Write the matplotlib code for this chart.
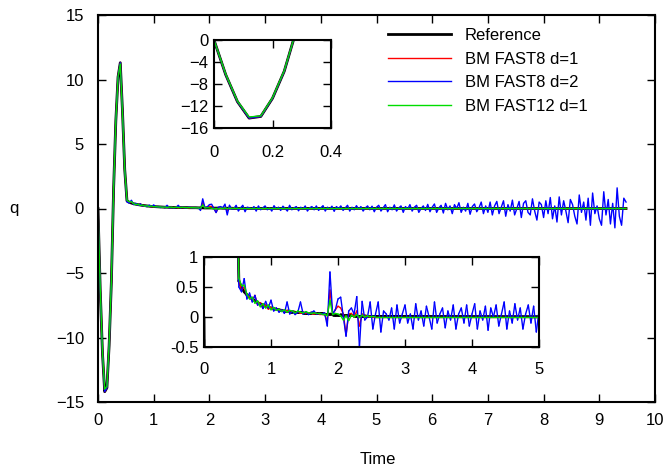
import numpy as np
import matplotlib
matplotlib.use('Agg')
import matplotlib.pyplot as plt
from matplotlib.collections import LineCollection

plt.rcParams['font.family'] = ['Liberation Sans', 'DejaVu Sans']
plt.rcParams['font.size'] = 12

dt = 0.04      # sample step
t_end = 9.48   # last sample time

# reference solution, samples 0 .. 2.60, then flat at zero
ref_q = [0, -6.3, -11.2, -14.2, -13.9, -10.6, -5.7, 1.5, 6.8, 10.2, 11.3, 7.5, 3.0,
         0.6, 0.49, 0.42, 0.37, 0.33, 0.30, 0.27, 0.24, 0.22, 0.20, 0.18, 0.16,
         0.15, 0.14, 0.13, 0.12, 0.11, 0.10, 0.10, 0.09, 0.09, 0.08, 0.08, 0.08,
         0.07, 0.07, 0.07, 0.07, 0.06, 0.06, 0.06, 0.06, 0.05, 0.05, 0.05, 0.04,
         0.04, 0.04, 0.04, 0.03, 0.03, 0.03, 0.03, 0.02, 0.02, 0.02, 0.02, 0.02,
         0.01, 0.01, 0.01, 0.01, 0.01]
ref_tail = 0.0

fast8_d1 = [0, -6.3, -11.2, -14.2, -13.9, -10.6, -5.7, 1.5, 6.8, 10.2, 11.3, 7.5, 3.0,
            0.6, 0.45, 0.5, 0.35, 0.34, 0.27, 0.36, 0.2, 0.24, 0.15, 0.2, 0.13,
            0.16, 0.11, 0.14, 0.1, 0.12, 0.08, 0.11, 0.07, 0.1, 0.07, 0.09, 0.06,
            0.08, 0.06, 0.07, 0.06, 0.05, 0.06, 0.05, 0.05, 0.05, -0.08, 0.45, 0.05,
            0.12, 0.18, 0.15, 0.05, -0.3, 0.05, 0.06, 0.0, 0.1, -0.15, 0.05, 0.02,
            0.0, 0.01, 0.0, 0.0, 0.0]
fast8_d1_tail = 0.0

fast12_d1 = [0, -6.2, -11.1, -14.0, -13.8, -10.5, -5.6, 1.5, 6.8, 10.2, 11.2, 7.4, 3.0,
             0.65, 0.52, 0.53, 0.38, 0.30, 0.33, 0.23, 0.27, 0.17, 0.22, 0.15, 0.2,
             0.12, 0.16, 0.11, 0.13, 0.09, 0.12, 0.08, 0.11, 0.1, 0.07, 0.1, 0.08,
             0.07, 0.09, 0.07, 0.06, 0.07, 0.06, 0.06, 0.05, 0.05, 0.02, 0.28, 0.04,
             0.06, 0.05, 0.02, -0.05, 0.02, -0.06, 0.03, 0.0, 0.04, -0.01, 0.03, 0.0,
             0.02, 0.0, 0.01, 0.0, 0.0]
fast12_d1_tail = 0.0

fast8_d2 = [
    # 0.00 - 0.96
    0, -6.3, -11.2, -14.2, -13.9, -10.6, -5.7, 1.5, 6.8, 10.2, 11.3, 7.5, 3.0,
    0.5, 0.42, 0.64, 0.3, 0.4, 0.25, 0.36, 0.2, 0.22, 0.14, 0.26, 0.15,
    # 1.00 - 1.96
    0.28, 0.1, 0.15, 0.08, 0.12, 0.06, 0.25, 0.05, 0.1, 0.04, 0.08, 0.25, 0.05,
    0.09, 0.04, 0.07, 0.1, 0.05, 0.06, 0.05, 0.07, -0.15, 0.75, 0.05, 0.12,
    # 2.00 - 2.96
    0.3, 0.33, 0.0, -0.32, 0.1, 0.15, 0.05, 0.34, -0.5, 0.26, -0.05, 0.0, 0.25,
    -0.2, 0.05, 0.25, -0.25, 0.1, 0.05, -0.05, 0.15, -0.2, 0.2, -0.1, 0.05,
    # 3.00 - 3.96
    0.2, -0.1, 0.05, -0.2, 0.22, -0.05, 0.1, -0.15, 0.18, 0.0, -0.2, 0.25, -0.1,
    0.05, 0.15, -0.18, 0.1, -0.05, 0.2, -0.2, 0.05, 0.15, -0.1, 0.2, -0.15,
    # 4.00 - 4.96
    0.05, 0.22, -0.2, 0.1, -0.05, 0.18, -0.22, 0.15, 0.0, 0.2, -0.15, 0.05, 0.25,
    -0.2, 0.1, -0.1, 0.22, -0.05, 0.15, -0.2, 0.05, 0.2, -0.1, 0.18, -0.25,
    # 5.00 - 5.96
    0.1, 0.25, -0.2, 0.05, 0.3, -0.25, 0.1, -0.1, 0.28, -0.2, 0.05, 0.2, -0.3,
    0.15, -0.05, 0.3, -0.2, 0.1, 0.25, -0.3, 0.0, 0.2, -0.15, 0.32, -0.25,
    # 6.00 - 6.96
    0.1, 0.35, -0.3, 0.05, 0.25, -0.35, 0.4, -0.1, 0.2, -0.4, 0.3, 0.0, 0.45,
    -0.3, 0.1, -0.2, 0.4, -0.45, 0.15, 0.35, -0.25, 0.05, 0.5, -0.4, 0.2,
    # 7.00 - 7.96
    -0.3, 0.5, -0.5, 0.2, 0.55, -0.4, 0.1, 0.6, -0.6, 0.3, -0.2, 0.65, -0.5,
    0.0, 0.55, -0.7, 0.4, 0.6, -0.3, -0.5, 0.75, -0.2, -0.9, 0.5, 0.3,
    # 8.00 - 8.96
    -0.7, 0.6, -0.4, 0.85, -0.8, 0.2, -1.05, 0.9, -0.5, 0.6, -0.2, -1.1, 0.7,
    0.3, -0.6, -1.2, 1.05, -0.3, 0.5, -0.9, 0.8, -1.3, 1.2, -0.4, 0.2,
    # 9.00 - 9.48
    -0.8, -1.3, 1.3, -0.5, 0.7, -1.2, 0.4, -1.5, 1.6, -0.6, -1.3, 0.8, 0.5]


def with_tail(vals, tail):
    t = np.append(np.arange(len(vals)) * dt, t_end)
    return t, np.append(vals, tail)


series = [
    (with_tail(ref_q, ref_tail), 'black', 2.0, 'Reference'),
    (with_tail(fast8_d1, fast8_d1_tail), '#ff0000', 1.0, 'BM FAST8 d=1'),
    ((np.arange(len(fast8_d2)) * dt, np.array(fast8_d2)), '#0000ff', 1.0, 'BM FAST8 d=2'),
    (with_tail(fast12_d1, fast12_d1_tail), '#00dd00', 1.0, 'BM FAST12 d=1'),
]


def draw(ax):
    for (t, q), c, lw, lab in series:
        ax.plot(t, q, color=c, lw=lw, label=lab)


def draw_clipped(ax, lo, hi):
    # like gnuplot: skip segments whose both ends are out of y range
    for (t, q), c, lw, lab in series:
        inside = (q >= lo) & (q <= hi)
        keep = inside[:-1] | inside[1:]
        pts = np.column_stack([t, q])
        segs = np.stack([pts[:-1], pts[1:]], axis=1)[keep]
        ax.add_collection(LineCollection(segs, colors=c, linewidths=lw,
                                         capstyle='round', joinstyle='round'))


def style(ax, xpad, ypad):
    for s in ax.spines.values():
        s.set_linewidth(1.5)
    ax.tick_params(axis='x', direction='in', top=True, length=6, width=1, pad=xpad)
    ax.tick_params(axis='y', direction='in', right=True, length=6, width=1, pad=ypad)


fig = plt.figure(figsize=(6.72, 4.74), dpi=100)
W, H = 672, 474

ax = fig.add_axes([98 / W, 1 - 402 / H, (655 - 98) / W, (402 - 15) / H])
draw(ax)
ax.set_xlim(0, 10)
ax.set_ylim(-15, 15)
ax.set_xticks(range(0, 11))
ax.set_yticks(range(-15, 16, 5))
style(ax, 8, 10)
fig.text(378 / W, 1 - 460 / H, 'Time', ha='center', va='center', fontsize=12)
fig.text(14 / W, 1 - 208 / H, 'q', ha='center', va='center', fontsize=12)

ax.legend(loc='upper left', bbox_to_anchor=(388 / W, 1 - 28 / H),
          bbox_transform=fig.transFigure, frameon=False, borderpad=0,
          borderaxespad=0, handlelength=3.8, handletextpad=0.8,
          labelspacing=0.52, fontsize=12)

# inset: first dip
ax1 = fig.add_axes([214 / W, 1 - 128 / H, (331 - 214) / W, (128 - 40) / H])
draw(ax1)
ax1.set_xlim(0, 0.4)
ax1.set_ylim(-16, 0)
ax1.set_xticks([0, 0.2, 0.4])
ax1.set_xticklabels(['0', '0.2', '0.4'])
ax1.set_yticks([0, -4, -8, -12, -16])
style(ax1, 12, 4)

# inset: tail
ax2 = fig.add_axes([204 / W, 1 - 347 / H, (539 - 204) / W, (347 - 257) / H])
draw_clipped(ax2, -0.5, 1)
ax2.set_xlim(0, 5)
ax2.set_ylim(-0.5, 1)
ax2.set_xticks(range(0, 6))
ax2.set_yticks([-0.5, 0, 0.5, 1])
ax2.set_yticklabels(['-0.5', '0', '0.5', '1'])
style(ax2, 11, 4)

fig.savefig('out.png', dpi=100)
